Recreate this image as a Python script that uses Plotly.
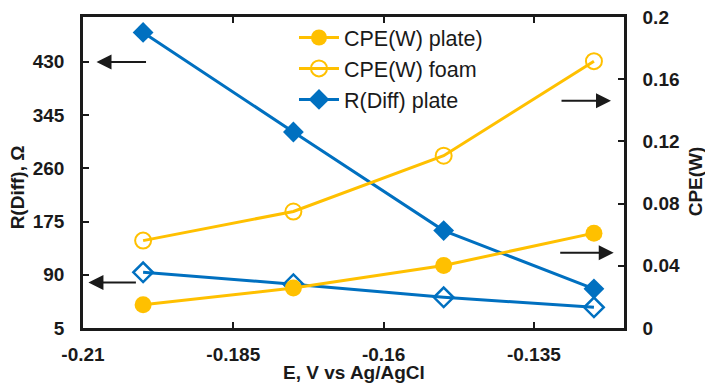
import plotly.graph_objects as go

# Data
potential = [-0.2, -0.175, -0.15, -0.125]
cpe_plate = [0.0150, 0.0257, 0.0402, 0.0610]
cpe_foam = [0.0562, 0.0749, 0.1108, 0.1716]
rdiff_plate = [477, 318, 160.5, 67.6]
rdiff_foam = [94, 75, 54, 38]

x_ticks = [-0.21, -0.185, -0.16, -0.135]
x_ticktext = ["-0.21", "-0.185", "-0.16", "-0.135"]
y_ticks = [5, 90, 175, 260, 345, 430]
y_ticktext = ["5", "90", "175", "260", "345", "430"]
y2_ticks = [0, 0.04, 0.08, 0.12, 0.16, 0.2]
y2_ticktext = ["0", "0.04", "0.08", "0.12", "0.16", "0.2"]

ORANGE = "#FFC000"
BLUE = "#0070C0"
FONT = "Liberation Sans, Arial, sans-serif"
INK = "#1a1a1a"

def bold(labels):
    return ["<b>%s</b>" % t for t in labels]

fig = go.Figure()
fig.add_trace(go.Scatter(
    x=potential, y=cpe_plate, yaxis="y2", name="CPE(W) plate)",
    mode="lines+markers", line=dict(color=ORANGE, width=3),
    marker=dict(symbol="circle", size=17, color=ORANGE, line=dict(color=ORANGE, width=0))))
fig.add_trace(go.Scatter(
    x=potential, y=cpe_foam, yaxis="y2", name="CPE(W) foam",
    mode="lines+markers", line=dict(color=ORANGE, width=3),
    marker=dict(symbol="circle-open", size=16, color=ORANGE, line=dict(color=ORANGE, width=2))))
fig.add_trace(go.Scatter(
    x=potential, y=rdiff_plate, yaxis="y", name="R(Diff) plate",
    mode="lines+markers", line=dict(color=BLUE, width=3),
    marker=dict(symbol="diamond", size=16, color=BLUE)))
fig.add_trace(go.Scatter(
    x=potential, y=rdiff_foam, yaxis="y", name="R(Diff) foam", showlegend=False,
    mode="lines+markers", line=dict(color=BLUE, width=3),
    marker=dict(symbol="diamond-open", size=15, color=BLUE, line=dict(color=BLUE, width=2.5))))

# Arrows indicating axis assignment (head position in paper coords, tail offset in px)
arrows = [
    (0.025, 0.855, 51, 0),
    (0.010, 0.146, 49, 0),
    (0.976, 0.731, -51, 0),
    (0.981, 0.242, -55, 0),
]
for hx, hy, ax, ay in arrows:
    fig.add_annotation(x=hx, y=hy, xref="paper", yref="paper", ax=ax, ay=ay,
                       text="", showarrow=True,
                       arrowhead=2, arrowsize=1.5, arrowwidth=2, arrowcolor=INK)

axis_font = dict(family=FONT, size=19, color=INK)
tick_font = dict(family=FONT, size=19, color=INK)

# Axis titles as annotations
fig.add_annotation(x=0, y=0.4535, xref="paper", yref="paper", xshift=-64.6,
                   text="<b>R(Diff), Ω</b>", textangle=-90, showarrow=False,
                   font=axis_font, xanchor="center", yanchor="middle")
fig.add_annotation(x=1, y=0.47, xref="paper", yref="paper", xshift=71.5,
                   text="<b>CPE(W)</b>", textangle=-90, showarrow=False,
                   font=axis_font, xanchor="center", yanchor="middle")
fig.add_annotation(x=0.5, y=0, xref="paper", yref="paper", yshift=-44.5,
                   text="<b>E, V vs Ag/AgCl</b>", showarrow=False,
                   font=axis_font, xanchor="center", yanchor="middle")

common = dict(showgrid=False, zeroline=False, showline=True, linecolor=INK,
              linewidth=2.5, ticks="inside", ticklen=6, tickwidth=2,
              tickcolor=INK, tickfont=tick_font, automargin=False)

fig.update_layout(
    width=705, height=383,
    margin=dict(l=83, r=81, t=17, b=55),
    paper_bgcolor="white", plot_bgcolor="white",
    font=dict(family=FONT, color=INK),
    showlegend=True,
    legend=dict(x=0.39, y=1.0, xanchor="left", yanchor="top",
                font=dict(family=FONT, size=21.5, color=INK),
                bgcolor="rgba(0,0,0,0)", tracegroupgap=0, itemwidth=40),
    xaxis=dict(range=[-0.21, -0.12], tickvals=x_ticks, ticktext=bold(x_ticktext),
               mirror="ticks", ticklabelstandoff=7, **common),
    yaxis=dict(range=[5, 501.6], tickvals=y_ticks, ticktext=bold(y_ticktext),
               ticklabelstandoff=12, **common),
    yaxis2=dict(range=[0, 0.2], tickvals=y2_ticks, ticktext=bold(y2_ticktext),
                overlaying="y", side="right", anchor="x",
                ticklabelstandoff=12, **common),
)

fig.write_html("out.html", config={"displayModeBar": False},
               post_script="document.body.style.margin='0';document.body.style.overflow='hidden';")
